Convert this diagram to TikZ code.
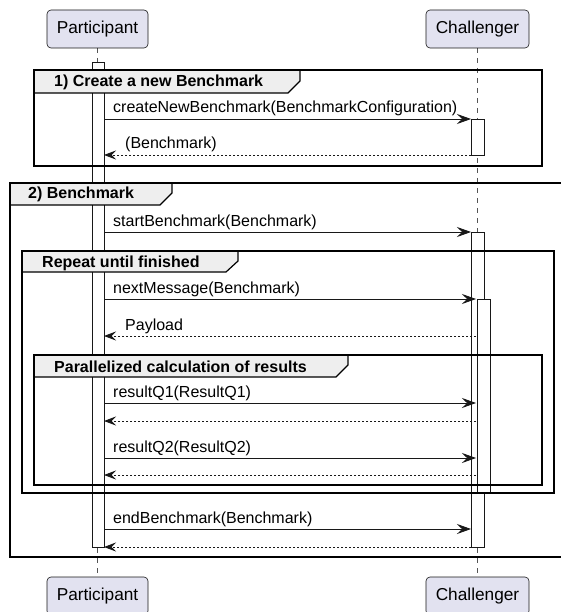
\documentclass[tikz,border=0pt]{standalone}
\usepackage{fontspec}
\setmainfont{Liberation Sans}
\usetikzlibrary{arrows.meta}
\definecolor{partfill}{HTML}{E2E2F0}
\definecolor{linecol}{HTML}{181818}
\definecolor{headfill}{HTML}{EEEEEE}
\definecolor{lifecol}{HTML}{555555}
\begin{document}
\begin{tikzpicture}[x=1pt,y=-1pt,
  partbox/.style={draw=linecol, fill=partfill, rounded corners=4pt, line width=0.6pt, minimum height=38pt, inner sep=0pt, font=\fontsize{17.25}{20}\selectfont},
  actbar/.style={draw=linecol, fill=white, line width=0.6pt},
  lifeline/.style={draw=lifecol, line width=0.7pt, dash pattern=on 5pt off 5pt},
  msg/.style={draw=linecol, line width=0.8pt, -{Stealth[length=14pt,width=10pt,inset=5pt]}},
  ret/.style={draw=linecol, line width=0.8pt, dash pattern=on 2pt off 2pt, -{Stealth[length=12pt,width=9pt,inset=4.5pt]}},
  frameline/.style={draw=black, line width=1.5pt},
  tabshape/.style={draw=black, fill=headfill, line width=1.2pt},
  msgtext/.style={anchor=base west, inner sep=0pt, font=\fontsize{16}{19}\selectfont},
  headtext/.style={anchor=base west, inner sep=0pt, font=\bfseries\fontsize{16}{19}\selectfont},
]
\useasboundingbox (0,0) rectangle (561,612);
\clip (0,0) rectangle (561,612);

% lifelines
\coordinate (pl) at (97,48);
\coordinate (plb) at (97,577);
\coordinate (cl) at (477,48);
\coordinate (clb) at (477,577);
\draw[lifeline] (pl) -- (plb);
\draw[lifeline] (cl) -- (clb);

% activation bars
\path[actbar] (92,62) rectangle (104,547);
\path[actbar] (471,119) rectangle (484,155);
\path[actbar] (471,232) rectangle (484,547);
\path[actbar] (477,299) rectangle (490,493);

% frame 1
\path[tabshape] (34,70) -- (300,70) -- (300,81) -- (288,93) -- (34,93) -- cycle;
\draw[frameline] (34,70) rectangle (542,166);
\node[headtext] (h1) at (54,87) {1) Create a new Benchmark};

% frame 2
\path[tabshape] (10,183) -- (172,183) -- (172,193) -- (160,205) -- (10,205) -- cycle;
\draw[frameline] (10,183) rectangle (575,557);
\node[headtext] (h2) at (28,199) {2) Benchmark};

% frame 3 loop
\path[tabshape] (22,251) -- (238,251) -- (238,261) -- (226,272) -- (22,272) -- cycle;
\draw[frameline] (22,251) rectangle (554,493);
\node[headtext] (h3) at (42,267) {Repeat until finished};

% frame 4 par
\path[tabshape] (34,355) -- (348,355) -- (348,365) -- (336,377) -- (34,377) -- cycle;
\draw[frameline] (34,355) rectangle (542,485);
\node[headtext] (h4) at (54,372) {Parallelized calculation of results};

% messages
\coordinate (p1) at (104,119); \coordinate (c1) at (471,119);
\draw[msg] (p1) -- (c1);
\node[msgtext] (t1) at (113,113) {createNewBenchmark(BenchmarkConfiguration)};
\coordinate (p2) at (104,155); \coordinate (c2) at (471,155);
\draw[ret] (c2) -- (p2);
\node[msgtext] (t2) at (125,149) {(Benchmark)};

\coordinate (p3) at (104,232); \coordinate (c3) at (471,232);
\draw[msg] (p3) -- (c3);
\node[msgtext] (t3) at (113,226) {startBenchmark(Benchmark)};

\coordinate (p4) at (104,299); \coordinate (c4) at (476,299);
\draw[msg] (p4) -- (c4);
\node[msgtext] (t4) at (113,293) {nextMessage(Benchmark)};
\coordinate (p5) at (104,336); \coordinate (c5) at (476,336);
\draw[ret] (c5) -- (p5);
\node[msgtext] (t5) at (125,330) {Payload};

\coordinate (p6) at (104,403); \coordinate (c6) at (476,403);
\draw[msg] (p6) -- (c6);
\node[msgtext] (t6) at (113,397) {resultQ1(ResultQ1)};
\coordinate (p7) at (104,421); \coordinate (c7) at (476,421);
\draw[ret] (c7) -- (p7);

\coordinate (p8) at (104,458); \coordinate (c8) at (476,458);
\draw[msg] (p8) -- (c8);
\node[msgtext] (t8) at (113,452) {resultQ2(ResultQ2)};
\coordinate (p9) at (104,475); \coordinate (c9) at (476,475);
\draw[ret] (c9) -- (p9);

\coordinate (p10) at (104,529); \coordinate (c10) at (471,529);
\draw[msg] (p10) -- (c10);
\node[msgtext] (t10) at (113,523) {endBenchmark(Benchmark)};
\coordinate (p11) at (104,547); \coordinate (c11) at (471,547);
\draw[ret] (c11) -- (p11);

% participants
\node[partbox, minimum width=101pt] (ptop) at (97.5,29) {Participant};
\node[partbox, minimum width=103pt] (ctop) at (477.5,29) {Challenger};
\node[partbox, minimum width=101pt] (pbot) at (97.5,596) {Participant};
\node[partbox, minimum width=103pt] (cbot) at (477.5,596) {Challenger};
\end{tikzpicture}
\end{document}
